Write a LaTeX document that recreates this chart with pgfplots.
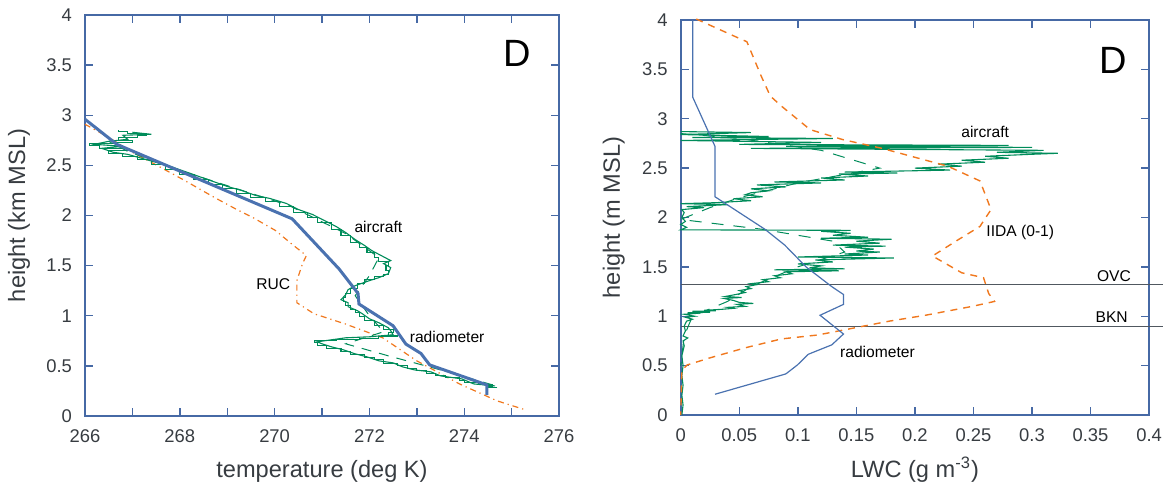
\documentclass[border=0pt]{standalone}
\usepackage{fontspec}
\setmainfont{Liberation Sans}
\usepackage{pgfplots}
\pgfplotsset{compat=1.18}
\definecolor{axblue}{RGB}{70,105,165}
\definecolor{radblue}{RGB}{74,114,176}
\definecolor{acgreen}{RGB}{0,140,90}
\definecolor{iorange}{RGB}{240,120,30}
\definecolor{txt}{RGB}{55,60,65}
\definecolor{cloudline}{RGB}{80,88,96}
\pgfplotsset{mystyle/.style={
  scale only axis,
  axis line style={axblue, line width=0.8pt},
  every tick/.style={axblue, line width=0.7pt},
  tick align=inside,
  major tick length=4pt, minor tick length=4pt,
  tick label style={font=\fontsize{9.2}{11}\selectfont, text=txt},
  xticklabel style={yshift=-3.5pt},
  yticklabel style={xshift=-3pt},
  label style={font=\fontsize{11.8}{14}\selectfont, text=txt},
  ymin=0, ymax=4, ytick={0,0.5,...,4},
  yticklabels={0,0.5,1,1.5,2,2.5,3,3.5,4},
  every node/.append style={text=txt},
}}
\begin{document}
\begin{tikzpicture}
\useasboundingbox (0,0) rectangle (583.5pt,242.5pt);
% ---------------- left panel ----------------
\begin{axis}[mystyle,
  at={(42.5pt,34.5pt)}, anchor=south west,
  width=237pt, height=200.5pt,
  xmin=266, xmax=276, xtick={266,268,...,276},
  xticklabels={266,268,270,272,274,276},
  minor xtick={267,269,...,275},
  xlabel={temperature (deg K)}, ylabel={height (km MSL)},
  xlabel style={at={(axis description cs:0.5,-0.139)}, anchor=center},
  ylabel style={at={(axis description cs:-0.139,0.5)}, anchor=center},
]
% RUC
\addplot[iorange, line width=0.6pt, dash pattern=on 3pt off 2pt on 0.6pt off 2pt] coordinates {
(266.0,2.91) (266.5,2.78) (267.0,2.63) (267.44,2.52) (268.1,2.35) (268.73,2.18) (269.2,2.06)
(269.54,1.98) (270.02,1.85) (270.35,1.72) (270.67,1.60) (270.59,1.52) (270.47,1.35)
(270.47,1.13) (270.83,1.02) (271.48,0.92) (272.28,0.78) (273.0,0.55) (273.9,0.32)
(274.7,0.15) (275.3,0.06)
};
% aircraft dashed (smoothed)
\addplot[acgreen, line width=0.5pt, dash pattern=on 5pt off 4pt] coordinates {
(274.6,0.31) (273.5,0.46) (272.4,0.60) (271.5,0.72) (272.3,0.84) (272.0,1.0)
(271.7,1.2) (272.0,1.40) (272.2,1.58) (271.5,1.82) (270.3,2.10) (268.0,2.45)
(266.9,2.64) (266.5,2.74)
};
% aircraft trace A
\addplot[acgreen, line width=0.55pt, const plot] coordinates {
(274.70,0.28) (274.50,0.29) (274.60,0.31) (274.30,0.33) (274.00,0.35) (273.90,0.38)
(273.60,0.40) (273.40,0.42) (273.20,0.45) (273.00,0.47) (272.80,0.50) (272.60,0.52)
(272.30,0.56) (272.10,0.58) (271.90,0.61) (271.60,0.64) (271.40,0.67) (271.10,0.70)
(270.90,0.73) (270.85,0.75) (271.30,0.76) (271.80,0.77) (272.20,0.79) (272.60,0.80)
(272.40,0.83) (272.50,0.86) (272.30,0.90) (272.10,0.95) (271.90,0.99) (271.80,1.03)
(271.70,1.06) (271.60,1.10) (271.50,1.14) (271.45,1.18) (271.50,1.22) (271.60,1.27)
(271.75,1.32) (271.90,1.36) (272.10,1.39) (272.30,1.41) (272.40,1.45) (272.35,1.50)
(272.40,1.54) (272.20,1.58) (272.10,1.63) (271.95,1.68) (271.80,1.73) (271.60,1.80)
(271.40,1.86) (271.20,1.93) (270.90,1.98) (270.70,2.03) (270.40,2.09) (270.10,2.14)
(269.80,2.18) (269.50,2.22) (269.20,2.27) (268.90,2.31) (268.60,2.36) (268.30,2.41)
(268.00,2.46) (267.70,2.51) (267.40,2.56) (267.10,2.59) (266.80,2.62) (266.50,2.65)
(266.90,2.67) (266.30,2.70) (266.10,2.72) (266.60,2.73) (267.00,2.75) (266.70,2.78)
(267.10,2.80) (267.30,2.82) (266.90,2.84) (266.70,2.85)
};
% aircraft trace B
\addplot[acgreen, line width=0.55pt] coordinates {
(274.65,0.30) (274.20,0.32) (273.95,0.37) (273.50,0.40) (273.30,0.44) (272.95,0.46)
(272.70,0.49) (272.50,0.53) (272.20,0.55) (271.95,0.59) (271.70,0.62) (271.45,0.66)
(271.20,0.69) (271.00,0.72) (270.90,0.74) (271.50,0.78) (272.00,0.79) (272.50,0.81)
(272.45,0.85) (272.40,0.88) (272.20,0.93) (272.00,0.97) (271.85,1.02) (271.75,1.05)
(271.55,1.09) (271.55,1.13) (271.40,1.16) (271.50,1.21) (271.55,1.26) (271.70,1.30)
(272.00,1.35) (272.20,1.38) (272.40,1.42) (272.45,1.48) (272.30,1.52) (272.45,1.55)
(272.25,1.60) (272.05,1.65) (271.90,1.70) (271.70,1.76) (271.50,1.83) (271.30,1.89)
(271.05,1.95) (270.80,2.01) (270.50,2.06) (270.25,2.12) (269.90,2.17) (269.60,2.20)
(269.30,2.25) (269.00,2.29) (268.70,2.34) (268.40,2.39) (268.10,2.44) (267.80,2.49)
(267.50,2.53) (267.20,2.57) (266.90,2.61) (266.60,2.63) (266.35,2.67) (266.80,2.69)
(266.20,2.71) (266.50,2.74) (266.90,2.76) (266.80,2.80) (267.40,2.81) (267.00,2.83)
};
% radiometer
\addplot[radblue, line width=1.5pt] coordinates {
(266.0,2.96) (266.67,2.71) (270.37,1.967) (271.36,1.467) (271.76,1.223) (271.78,1.117)
(272.5,0.90) (272.77,0.717) (273.09,0.623) (273.27,0.51) (274.48,0.31) (274.48,0.21)
};
\node[font=\fontsize{7.8}{9}\selectfont] at (axis cs:272.19,1.89) {aircraft};
\node[font=\fontsize{7.8}{9}\selectfont] at (axis cs:269.97,1.32) {RUC};
\node[font=\fontsize{7.8}{9}\selectfont] at (axis cs:273.64,0.79) {radiometer};
\node[font=\fontsize{19}{21}\selectfont] at (axis cs:275.11,3.62) {D};
\end{axis}
% ---------------- right panel ----------------
\begin{axis}[mystyle,
  at={(340.35pt,35pt)}, anchor=south west,
  width=234.2pt, height=197.5pt,
  xmin=0, xmax=0.4, xtick={0,0.05,...,0.4},
  xticklabels={0,0.05,0.1,0.15,0.2,0.25,0.3,0.35,0.4},
  xlabel={LWC (g m\textsuperscript{-3})}, ylabel={height (m MSL)},
  xlabel style={at={(axis description cs:0.5,-0.139)}, anchor=center},
  ylabel style={at={(axis description cs:-0.143,0.5)}, anchor=center},
  clip=false,
]
% cloud layers
\addplot[cloudline, line width=0.6pt] coordinates {(0,1.325) (0.412,1.325)};
\addplot[cloudline, line width=0.6pt] coordinates {(0,0.896) (0.412,0.896)};
% aircraft dashed (smoothed)
\addplot[acgreen, line width=0.5pt, dash pattern=on 6pt off 5pt] coordinates {
(0.0,2.85) (0.05,2.80) (0.12,2.68) (0.17,2.50) (0.10,2.35) (0.05,2.20) (0.025,2.10)
(0.0,1.98) (0.07,1.88) (0.13,1.76) (0.14,1.65) (0.10,1.50) (0.06,1.30) (0.04,1.15)
(0.01,1.0) (0.003,0.8) (0.0,0.5)
};
% aircraft
\addplot[acgreen, line width=0.55pt] coordinates {
(0.001,0.00) (0.002,0.10) (0.001,0.20) (0.002,0.30) (0.001,0.40) (0.002,0.50)
(0.001,0.60) (0.003,0.70) (0.002,0.75) (0.006,0.78) (0.002,0.80) (0.004,0.85)
(0.003,0.90) (0.005,0.95) (0.010,0.97) (0.004,0.99) (0.012,1.00) (0.003,1.02)
(0.015,1.03) (0.006,1.035) (0.025,1.04) (0.010,1.05) (0.030,1.055) (0.020,1.06)
(0.035,1.07) (0.045,1.08) (0.040,1.09) (0.055,1.10) (0.048,1.12) (0.062,1.13)
(0.050,1.14) (0.045,1.16) (0.037,1.18) (0.052,1.19) (0.038,1.20) (0.047,1.22)
(0.055,1.24) (0.050,1.26) (0.060,1.28) (0.056,1.30) (0.065,1.32) (0.060,1.33)
(0.075,1.35) (0.070,1.37) (0.085,1.39) (0.080,1.41) (0.095,1.43) (0.090,1.45)
(0.135,1.46) (0.080,1.47) (0.140,1.48) (0.110,1.49) (0.120,1.51) (0.100,1.53)
(0.130,1.55) (0.115,1.57) (0.182,1.59) (0.100,1.60) (0.160,1.62) (0.140,1.63)
(0.170,1.65) (0.150,1.66) (0.165,1.68) (0.140,1.70) (0.175,1.71) (0.130,1.72)
(0.170,1.74) (0.150,1.76) (0.180,1.78) (0.120,1.79) (0.160,1.80) (0.130,1.82)
(0.145,1.84) (0.120,1.86) (0.145,1.87) (0.000,1.875) (0.005,1.90) (0.000,1.93)
(0.004,1.96) (0.001,2.00) (0.003,2.05) (0.001,2.08) (0.020,2.10) (0.005,2.11)
(0.040,2.13) (0.000,2.14) (0.030,2.15) (0.060,2.17) (0.045,2.19) (0.070,2.21)
(0.055,2.23) (0.060,2.25) (0.075,2.27) (0.060,2.29) (0.090,2.31) (0.065,2.33)
(0.120,2.35) (0.080,2.36) (0.140,2.38) (0.120,2.40) (0.160,2.42) (0.135,2.44)
(0.185,2.45) (0.140,2.46) (0.230,2.48) (0.200,2.50) (0.240,2.52) (0.220,2.54)
(0.260,2.56) (0.240,2.58) (0.280,2.60) (0.260,2.62) (0.300,2.64) (0.322,2.65)
(0.270,2.66) (0.310,2.68) (0.060,2.70) (0.300,2.71) (0.090,2.72) (0.280,2.73)
(0.050,2.74) (0.120,2.76) (0.000,2.78) (0.130,2.80) (0.010,2.81) (0.075,2.82)
(0.000,2.84) (0.060,2.86) (0.000,2.87)
};
% IIDA
\addplot[iorange, line width=0.7pt, dash pattern=on 3.5pt off 3pt] coordinates {
(0.0133,4.01) (0.0488,3.82) (0.0565,3.78) (0.0688,3.43) (0.0765,3.23) (0.0858,3.13)
(0.1105,2.89) (0.138,2.79) (0.172,2.70) (0.203,2.60) (0.228,2.52) (0.2556,2.37)
(0.265,2.08) (0.2556,1.91) (0.237,1.775) (0.215,1.61) (0.240,1.44) (0.2586,1.39)
(0.263,1.23) (0.268,1.15) (0.249,1.10) (0.209,1.01) (0.178,0.95) (0.1475,0.88)
(0.117,0.81) (0.0858,0.77) (0.055,0.68) (0.024,0.575) (0.0056,0.507) (0.001,0.456)
(0.0,0.0)
};
% radiometer
\addplot[radblue, line width=0.6pt] coordinates {
(0.0102,4.0) (0.0102,3.22) (0.0293,2.72) (0.0293,2.47) (0.0293,2.21) (0.072,1.88)
(0.0889,1.72) (0.107,1.50) (0.129,1.30) (0.139,1.22) (0.139,1.12) (0.119,1.01)
(0.139,0.82) (0.129,0.71) (0.109,0.615) (0.0997,0.507) (0.0898,0.416) (0.0293,0.21)
};
\node[font=\fontsize{7.8}{9}\selectfont] at (axis cs:0.260,2.87) {aircraft};
\node[font=\fontsize{7.8}{9}\selectfont] at (axis cs:0.290,1.85) {IIDA (0-1)};
\node[font=\fontsize{7.8}{9}\selectfont] at (axis cs:0.168,0.64) {radiometer};
\node[font=\fontsize{7.8}{9}\selectfont] at (axis cs:0.370,1.41) {OVC};
\node[font=\fontsize{7.8}{9}\selectfont] at (axis cs:0.368,0.99) {BKN};
\node[font=\fontsize{19}{21}\selectfont] at (axis cs:0.369,3.59) {D};
\end{axis}
\end{tikzpicture}
\end{document}
